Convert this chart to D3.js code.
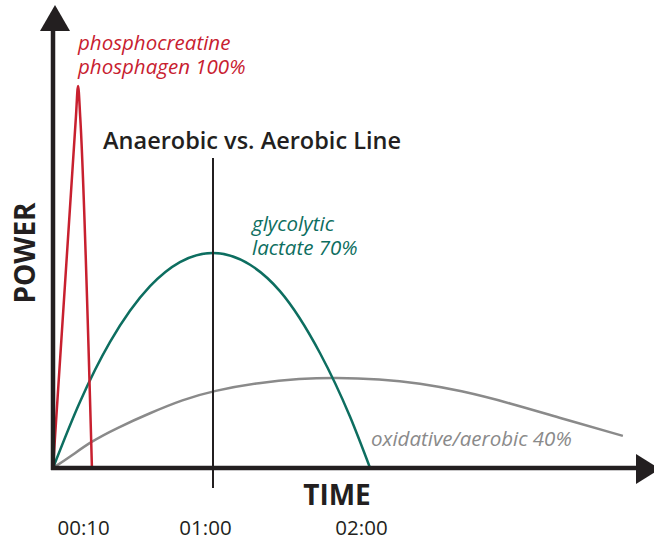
<!DOCTYPE html>
<html>
<head>
<meta charset="utf-8">
<script src="https://cdn.jsdelivr.net/npm/d3@7"></script>
<style>
  body { margin: 0; background: #fff; }
  svg text { font-family: "Open Sans", sans-serif; }
</style>
</head>
<body>
<div id="chart"></div>
<script>
// time in seconds, power in arbitrary units (100 = phosphagen peak)
const phosphagen = [[0, 0], [8.6, 92], [9.4, 100], [10.2, 92], [14.6, 0]];
const glycolytic = [[0, 0], [10.1, 17.3], [21.4, 33.0], [36.4, 47.6], [47.6, 53.9], [60, 56.3],
  [73.9, 53.2], [85.1, 46.3], [100.1, 30.1], [111.4, 13.4], [118.9, 0]];
const oxidative = [[0, 0], [6.4, 2.9], [13.9, 6.8], [24.0, 10.5], [36.4, 14.4], [48.7, 17.9],
  [60, 20.2], [77.6, 22.4], [92.6, 23.4], [105.7, 23.7], [122.6, 23.3], [137.6, 22.2],
  [152.6, 20.3], [171.4, 17.0], [190.1, 13.1], [213.7, 8.4]];
const tickValues = [11.3, 57.0, 115.5];
const tickLabels = ["00:10", "01:00", "02:00"];
const lineTime = 60;

const width = 654, height = 542;
const svg = d3.select("#chart").append("svg")
  .attr("width", width).attr("height", height);

const x = d3.scaleLinear().domain([0, 225]).range([53, 653]);
const y = d3.scaleLinear().domain([0, 100]).range([468, 86]);

const ink = "#231f20";

// curves
const line = d3.line().x(d => x(d[0])).y(d => y(d[1])).curve(d3.curveMonotoneX);
const smooth = d3.line().x(d => x(d[0])).y(d => y(d[1])).curve(d3.curveBasis);

svg.append("path").attr("d", smooth(oxidative))
  .attr("fill", "none").attr("stroke", "#8a8a8a").attr("stroke-width", 2.5);
svg.append("path").attr("d", line(glycolytic))
  .attr("fill", "none").attr("stroke", "#0d6e60").attr("stroke-width", 2.5);
svg.append("path").attr("d", line(phosphagen))
  .attr("fill", "none").attr("stroke", "#c8202f").attr("stroke-width", 2.5);

// anaerobic / aerobic divider
svg.append("line")
  .attr("x1", x(lineTime)).attr("x2", x(lineTime))
  .attr("y1", 158).attr("y2", 488)
  .attr("stroke", ink).attr("stroke-width", 2);

// axes
svg.append("line").attr("x1", x(0)).attr("x2", x(0)).attr("y1", y(0) + 2).attr("y2", 28)
  .attr("stroke", ink).attr("stroke-width", 4.5);
svg.append("path").attr("d", "M40,31 L55,5 L70,31 Z").attr("fill", ink);
svg.append("line").attr("x1", x(0) - 2).attr("x2", 640).attr("y1", y(0)).attr("y2", y(0))
  .attr("stroke", ink).attr("stroke-width", 4.5);
svg.append("path").attr("d", "M636,454 L660,469 L636,484 Z").attr("fill", ink);

const xAxis = d3.axisBottom(x).tickValues(tickValues)
  .tickFormat((d, i) => tickLabels[i]).tickSize(0).tickPadding(0);
const gx = svg.append("g").attr("transform", "translate(0,535)").call(xAxis);
gx.select(".domain").remove();
gx.selectAll("text").attr("font-size", 20.5).attr("fill", ink).attr("dy", 0)
  .style("font-family", "'Open Sans', sans-serif");

// axis titles
svg.append("text").attr("x", 337).attr("y", 505).attr("text-anchor", "middle")
  .attr("font-size", 28).attr("font-weight", 700).attr("fill", ink).text("TIME");
svg.append("text").attr("transform", "translate(35,253) rotate(-90)")
  .attr("text-anchor", "middle").attr("font-size", 28).attr("font-weight", 700)
  .attr("fill", ink).text("POWER");

// labels
svg.append("text").attr("x", 252).attr("y", 149).attr("text-anchor", "middle")
  .attr("font-size", 23.5).attr("font-weight", 600).attr("fill", ink)
  .text("Anaerobic vs. Aerobic Line");

const label = (lines, lx, ly, color) => {
  const t = svg.append("text").attr("x", lx).attr("y", ly)
    .attr("font-size", 20.5).attr("font-style", "italic").attr("fill", color);
  lines.forEach((s, i) => t.append("tspan").attr("x", lx).attr("dy", i ? 24 : 0).text(s));
};
label(["phosphocreatine", "phosphagen 100%"], 78, 50, "#c8202f");
label(["glycolytic", "lactate 70%"], 252, 231, "#0d6e60");
label(["oxidative/aerobic 40%"], 371, 446, "#8a8a8a");
</script>
</body>
</html>
